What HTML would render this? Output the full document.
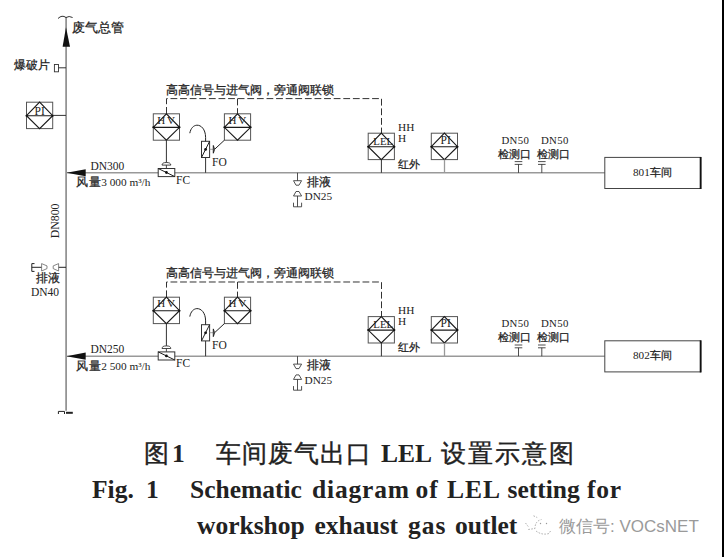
<!DOCTYPE html>
<html><head><meta charset="utf-8">
<style>
html,body{margin:0;padding:0;background:#fff;width:724px;height:557px;overflow:hidden;}
svg{position:absolute;left:0;top:0;display:block;}
text{font-family:"Liberation Serif",serif;fill:#222;}
.cn{font-family:"Liberation Serif",serif;stroke:#222;stroke-width:0.25;}
</style></head><body>
<svg style="white-space:pre" width="724" height="557" viewBox="0 0 724 557">
<defs>
  <g id="inst">
    <rect x="0" y="0" width="26.2" height="26.4" fill="none" stroke="#555" stroke-width="1"/>
    <path d="M0 13.5 L13.1 0 L26.2 13.5 L13.1 26.4 Z M0 13.5 H26.2" fill="none" stroke="#1a1a1a" stroke-width="1.15"/>
    <circle cx="0" cy="13.5" r="1" fill="#111"/><circle cx="26.2" cy="13.5" r="1" fill="#111"/>
  </g>
  <g id="row">
    <!-- horizontal pipe -->
    <line x1="66" y1="172.8" x2="605" y2="172.8" stroke="#999" stroke-width="1.6"/>
    <!-- left arrow -->
    <path d="M66.5 172.8 L85.7 169.2 L85.7 176.3 Z" fill="#111"/>
    <!-- dashed interlock -->
    <path d="M166.5 113.8 V98.6 H381.5 V133.2 M237.5 98.6 V113.8" fill="none" stroke="#333" stroke-width="1" stroke-dasharray="6.8 2.8"/>
    <!-- HV1 -->
    <use href="#inst" x="153.3" y="113.8"/>
    <line x1="166.4" y1="140" x2="166.4" y2="162.5" stroke="#333" stroke-width="1"/>
    <path d="M162 165.1 Q162 162.5 166.4 162.5 Q170.8 162.5 170.8 165.1 Z M166.4 165.1 V168.4" fill="none" stroke="#333" stroke-width="0.9"/>
    <!-- FC valve -->
    <rect x="158.2" y="168.5" width="16.6" height="8.1" fill="#fff" stroke="#333" stroke-width="1"/>
    <line x1="158.2" y1="168.5" x2="174.8" y2="176.6" stroke="#222" stroke-width="1"/>
    <circle cx="166.4" cy="172.5" r="1.4" fill="#111"/>
    <!-- HV2 -->
    <use href="#inst" x="224.4" y="113.8"/>
    <!-- FO valve -->
    <line x1="205.6" y1="157.5" x2="205.6" y2="172.8" stroke="#333" stroke-width="1"/>
    <rect x="201.5" y="141.3" width="8.1" height="16.2" fill="#fff" stroke="#333" stroke-width="1"/>
    <line x1="201.5" y1="157.5" x2="209.6" y2="141.3" stroke="#222" stroke-width="1"/>
    <circle cx="205.6" cy="149.4" r="1.4" fill="#111"/>
    <path d="M205.6 141.3 V137.5 C205.5 123 192 121 189.8 133.2" fill="none" stroke="#222" stroke-width="1"/>
    <path d="M209.6 149.3 H213" fill="none" stroke="#999" stroke-width="0.9"/>
    <path d="M213.3 145.4 V153.3 M213.4 145.6 Q215.6 149.4 213.4 153.1" fill="none" stroke="#222" stroke-width="1"/>
    <line x1="214.6" y1="149.3" x2="224.4" y2="140.2" stroke="#222" stroke-width="1"/>
    <!-- drain under pipe -->
    <path d="M297.5 172.8 V180.7 M293.5 180.7 H301.6 L299 185.2 H296 Z M296 191.5 H299 L301.6 196 H293.5 Z M297.5 196 V206.8 M293.5 202.7 V206.8 H301.6 V202.7" fill="none" stroke="#333" stroke-width="0.85"/>
    <!-- LEL -->
    <use href="#inst" x="368.2" y="133.2"/>
    <line x1="381.4" y1="159.4" x2="381.4" y2="172.8" stroke="#333" stroke-width="1"/>
    <!-- PI2 -->
    <use href="#inst" x="431.3" y="133.2"/>
    <line x1="444.5" y1="159.5" x2="444.5" y2="172.8" stroke="#999" stroke-width="1.3"/>
    <!-- test ports -->
    <path d="M514.7 161.6 H522.3 M514.7 164.4 H522.3 M518.5 164.4 V172.8 M538 161.6 H545.6 M538 164.4 H545.6 M541.8 164.4 V172.8" fill="none" stroke="#222" stroke-width="0.8"/>
    <!-- workshop box -->
    <rect x="604.8" y="157.4" width="96" height="31.1" fill="#fff" stroke="#444" stroke-width="1"/>
    <line x1="700.6" y1="157" x2="700.6" y2="189" stroke="#111" stroke-width="1.8"/>
    <!-- texts -->
        <text x="157.3" y="123.6" font-size="11" letter-spacing="1.8" fill="#333">HV</text>
    <text x="228.4" y="123.6" font-size="11" letter-spacing="1.8" fill="#333">HV</text>
    <text x="373.3" y="144.5" font-size="10.8" fill="#333">LEL</text>
    <text x="440.5" y="144" font-size="11.5" fill="#333">PI</text>
    <text x="176" y="184" font-size="11.5">FC</text>
    <text x="212" y="165.8" font-size="11.5">FO</text>
    <text x="304.5" y="200.2" font-size="11.3">DN25</text>
    <text x="398" y="130.8" font-size="11.3">HH</text>
    <text x="398" y="141.5" font-size="11.3">H</text>
    <text x="501.5" y="143.7" font-size="10.8" letter-spacing="0.3">DN50</text>
    <text x="541" y="143.7" font-size="10.8" letter-spacing="0.3">DN50</text>
    <text class="cn" x="166" y="93.9" font-size="11.6">高高信号与进气阀，旁通阀联锁</text>
    <text class="cn" x="306.5" y="186" font-size="11.5">排液</text>
    <text class="cn" x="398" y="168" font-size="11">红外</text>
    <text class="cn" x="498" y="157.8" font-size="11">检测口</text>
    <text class="cn" x="537" y="157.8" font-size="11">检测口</text>
  </g>
</defs>

<!-- right edge band -->
<rect x="722" y="0" width="2" height="557" fill="#000"/>

<!-- main vertical pipe -->
<line x1="66.1" y1="17" x2="66.1" y2="410.8" stroke="#888" stroke-width="1.6"/>
<path d="M58 18.5 Q62 14.5 66 17.5 Q69 15.5 72.6 17.5" fill="none" stroke="#333" stroke-width="1"/>
<path d="M66 27.3 L62.6 46.7 L70 46.7 Z" fill="#111"/>
<path d="M58.4 414 V411.4 H64.5 V414" fill="none" stroke="#222" stroke-width="1"/><rect x="66" y="411.8" width="6.8" height="2" fill="#222"/>

<text class="cn" x="72" y="31.5" font-size="12.5">废气总管</text>
<text class="cn" x="14" y="69" font-size="11.5">爆破片</text>
<rect x="54.4" y="64.5" width="4.1" height="7.3" fill="none" stroke="#333" stroke-width="0.9"/>
<line x1="58.5" y1="67.8" x2="66" y2="67.8" stroke="#333" stroke-width="1"/>

<use href="#inst" x="26.5" y="102.2"/>
<line x1="53" y1="115.4" x2="66" y2="115.4" stroke="#333" stroke-width="1"/>
<text x="34.5" y="114.6" font-size="11.5" fill="#333">PI</text>

<text x="59" y="238.3" font-size="11.8" transform="rotate(-90 59 238.3)">DN800</text>

<!-- left drain -->
<path d="M31.8 267.3 H41.6 M58.6 267.3 H66 M34.5 263.6 H31.8 V271.4 H34.5" fill="none" stroke="#222" stroke-width="1"/><path d="M41.6 263.6 V271 L47 268.6 V265.9 Z M58.6 263.6 V271 L53.2 268.6 V265.9 Z" fill="none" stroke="#666" stroke-width="0.8"/>
<text class="cn" x="36" y="281.5" font-size="11.5">排液</text>
<text x="31" y="295.5" font-size="11.5">DN40</text>

<use href="#row"/>
<use href="#row" y="183.4"/>

<text x="90.5" y="169.5" font-size="11.5">DN300</text>
<text x="90.5" y="353" font-size="11.5">DN250</text>
<text class="cn" x="76" y="186" font-size="11.5" letter-spacing="0.6">风量</text><text x="101.2" y="186" font-size="11.3">3 000 m³/h</text>
<text class="cn" x="76" y="369.5" font-size="11.5" letter-spacing="0.6">风量</text><text x="101.2" y="369.5" font-size="11.3">2 500 m³/h</text>
<text x="633" y="175.8" font-size="11.2">801<tspan class="cn">车间</tspan></text>
<text x="633" y="359.2" font-size="11.2">802<tspan class="cn">车间</tspan></text>

<!-- caption -->
<text x="143.5" y="462" font-size="25" style="stroke:#222;stroke-width:0.4"><tspan>图</tspan></text>
<text x="172" y="462" font-size="25.5" font-weight="bold">1</text>
<text x="216" y="462" font-size="25" letter-spacing="1.1" style="stroke:#222;stroke-width:0.4"><tspan>车间废气出口</tspan></text>
<text x="381" y="462" font-size="25.5" font-weight="bold">LEL</text>
<text x="441" y="462" font-size="25" letter-spacing="2" style="stroke:#222;stroke-width:0.4"><tspan>设置示意图</tspan></text>
<g font-size="25.5" font-weight="bold">
<text x="92" y="498.3">Fig.</text>
<text x="146" y="498.3">1</text>
<text x="190" y="498.3">Schematic</text>
<text x="312" y="498.3" textLength="97" lengthAdjust="spacing">diagram</text>
<text x="415.5" y="498.3" letter-spacing="1">of</text>
<text x="447" y="498.3" letter-spacing="1">LEL</text>
<text x="507.5" y="498.3">setting</text>
<text x="587" y="498.3" letter-spacing="0.8">for</text>
<text x="197" y="533.7">workshop</text>
<text x="314.5" y="533.7">exhaust</text>
<text x="408" y="533.7" letter-spacing="1">gas</text>
<text x="455" y="533.7">outlet</text>
</g>
<!-- watermark -->
<g fill="none" stroke="#999" stroke-width="0.8" stroke-dasharray="1.6 1.4">
  <path d="M528.3 529.5 L535 528.5 Q535 521 541.5 519.5"/>
  <path d="M533.5 515.8 L537.2 517.5 M525.5 523 L528.2 526.5"/>
  <path d="M536 531 Q542 535.5 549 533.5 L550.5 531"/>
  <circle cx="540.5" cy="523.5" r="0.7" fill="#999" stroke="none"/><circle cx="546.5" cy="523.5" r="0.7" fill="#999" stroke="none"/>
</g>
<text x="559" y="532" font-size="17" style="font-family:'Liberation Sans',sans-serif;fill:#9a9a9a">微信号: VOCsNET</text>
</svg>
</body></html>
